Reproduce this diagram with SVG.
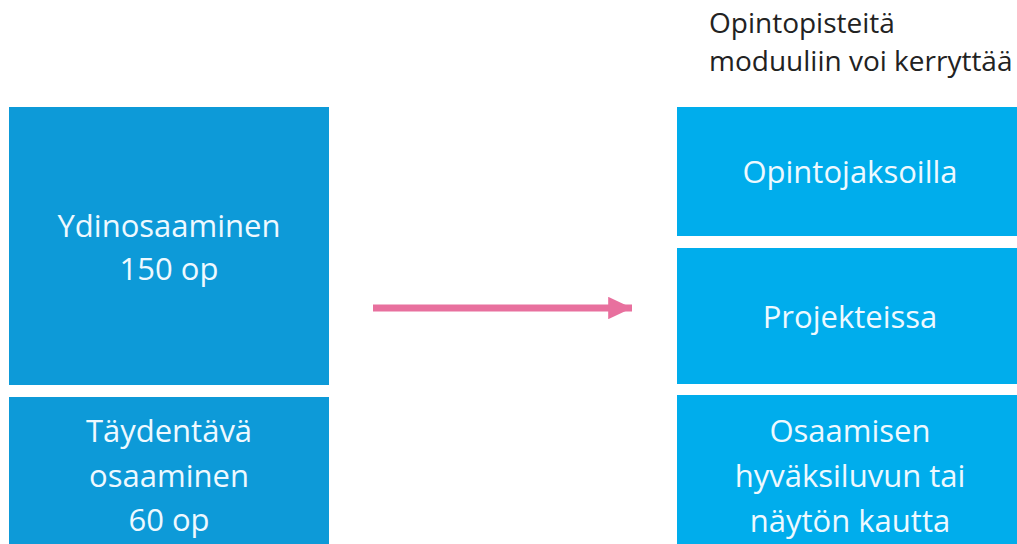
<svg xmlns="http://www.w3.org/2000/svg" width="1017" height="544" viewBox="0 0 1017 544">
<defs>
<style>
.lbox{fill:#0d9ad8}
.rbox{fill:#00adec}
.t{font-family:"Open Sans","Liberation Sans",sans-serif;font-size:31px;fill:#eef9ff;text-anchor:middle}
.h{font-family:"Open Sans","Liberation Sans",sans-serif;font-size:28px;fill:#222}
</style>
<marker id="ah" markerWidth="3.4" markerHeight="3.2" refX="3.4" refY="1.6" orient="auto" markerUnits="strokeWidth" viewBox="0 0 3.4 3.2">
<path d="M0,0 L3.4,1.6 L0,3.2 Z" fill="#e8709e"/>
</marker>
</defs>
<rect width="1017" height="544" fill="#fff"/>
<g id="ydinosaaminen">
<rect class="lbox" x="9" y="107" width="320" height="278"/>
<text class="t" x="169" y="237">Ydinosaaminen</text>
<text class="t" x="169" y="280">150 op</text>
</g>
<g id="taydentava">
<rect class="lbox" x="9" y="397" width="320" height="147"/>
<text class="t" x="169" y="442">Täydentävä</text>
<text class="t" x="169" y="487">osaaminen</text>
<text class="t" x="169" y="531">60 op</text>
</g>
<g id="otsikko">
<text class="h" x="709" y="33">Opintopisteitä</text>
<text class="h" x="709" y="71">moduuliin voi kerryttää</text>
</g>
<g id="opintojaksoilla">
<rect class="rbox" x="677" y="107" width="340" height="129"/>
<text class="t" x="850" y="183">Opintojaksoilla</text>
</g>
<g id="projekteissa">
<rect class="rbox" x="677" y="248" width="340" height="136"/>
<text class="t" x="850" y="328">Projekteissa</text>
</g>
<g id="hyvaksiluku">
<rect class="rbox" x="677" y="395" width="340" height="149"/>
<text class="t" x="850" y="442">Osaamisen</text>
<text class="t" x="850" y="487">hyväksiluvun tai</text>
<text class="t" x="850" y="532">näytön kautta</text>
</g>
<g id="connectors">
<line x1="373" y1="308" x2="632" y2="308" stroke="#e8709e" stroke-width="7" marker-end="url(#ah)"/>
</g>
</svg>
